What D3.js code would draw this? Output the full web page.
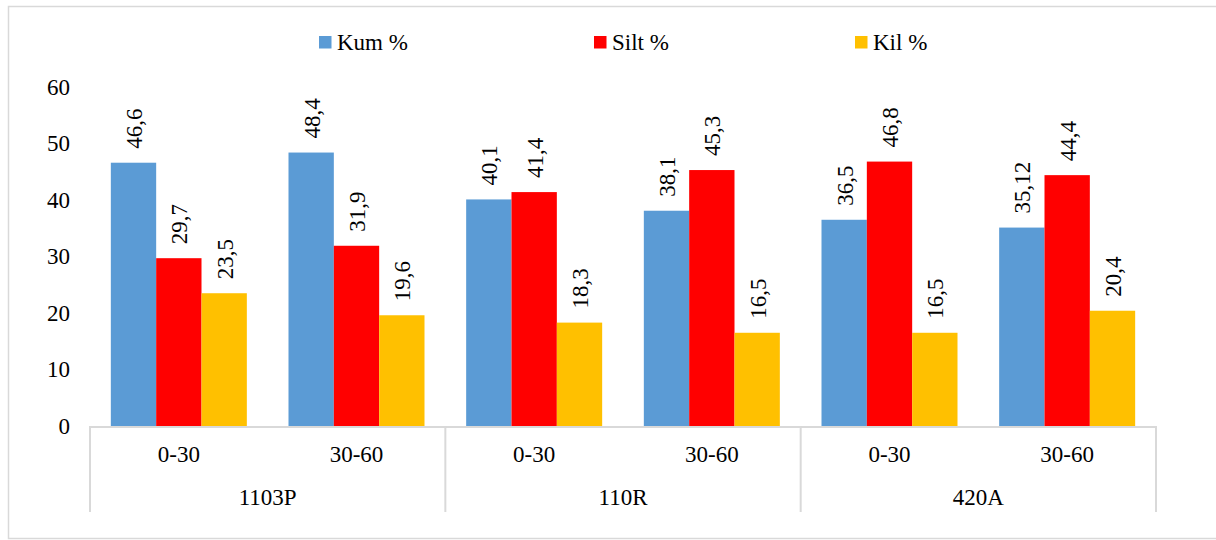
<!DOCTYPE html>
<html><head><meta charset="utf-8">
<script src="https://cdn.jsdelivr.net/npm/d3@7"></script>
<style>body{margin:0;background:#fff}svg{display:block}
svg text{font-family:"Liberation Serif","Tinos","Times New Roman","Times","Nimbus Roman","Nimbus Roman No9 L","FreeSerif","DejaVu Serif","Noto Serif","Noto Serif CJK SC",serif}</style>
</head><body>
<svg id="c" width="1216" height="540"></svg>
<script>
const groups = ["1103P", "110R", "420A"];
const depths = ["0-30", "30-60"];
const seriesNames = ["Kum %", "Silt %", "Kil %"];
const kum = [46.6, 48.4, 40.1, 38.1, 36.5, 35.12];
const silt = [29.7, 31.9, 41.4, 45.3, 46.8, 44.4];
const kil = [23.5, 19.6, 18.3, 16.5, 16.5, 20.4];
const labelsKum = ["46,6", "48,4", "40,1", "38,1", "36,5", "35,12"];
const labelsSilt = ["29,7", "31,9", "41,4", "45,3", "46,8", "44,4"];
const labelsKil = ["23,5", "19,6", "18,3", "16,5", "16,5", "20,4"];
const yTicks = [0, 10, 20, 30, 40, 50, 60];
const colors = ["#5B9BD5", "#FF0000", "#FFC000"];

const svg = d3.select("#c");
const fs = 23;
svg.append("rect").attr("x", 8.5).attr("y", 6.5).attr("width", 1300).attr("height", 532)
  .attr("fill", "none").attr("stroke", "#d9d9d9").attr("stroke-width", 1.5);

const L = 90, R = 1156, T = 87, B = 426;
const cats = [];
groups.forEach(g => depths.forEach(d => cats.push(g + "|" + d)));
const x0 = d3.scaleBand().domain(cats).range([L, R]).paddingInner(0.2345).paddingOuter(0.11725);
const x1 = d3.scaleBand().domain(seriesNames).range([0, x0.bandwidth()]);
const y = d3.scaleLinear().domain([0, 60]).range([B, T]);
const gx = d3.scaleBand().domain(groups).range([L, R]);

const series = [kum, silt, kil];
const labels = [labelsKum, labelsSilt, labelsKil];

svg.append("g").selectAll("text").data(yTicks).join("text")
  .attr("x", 70).attr("y", d => y(d)).attr("text-anchor", "end")
  .attr("dominant-baseline", "central").attr("font-size", fs).text(d => d);

seriesNames.forEach((s, si) => {
  const g = svg.append("g");
  g.selectAll("rect").data(series[si]).join("rect")
    .attr("x", (d, i) => x0(cats[i]) + x1(s))
    .attr("y", d => y(d))
    .attr("width", x1.bandwidth())
    .attr("height", d => B - y(d))
    .attr("fill", colors[si]);
  g.selectAll("text").data(series[si]).join("text")
    .attr("transform", (d, i) => {
      const cx = x0(cats[i]) + x1(s) + x1.bandwidth() / 2 + 1;
      return `translate(${cx},${y(d) - 14}) rotate(-90)`;
    })
    .attr("dominant-baseline", "central")
    .attr("font-size", fs)
    .text((d, i) => labels[si][i]);
});

const ax = svg.append("g").attr("stroke", "#d9d9d9").attr("stroke-width", 2);
ax.append("line").attr("x1", L).attr("x2", R + 1).attr("y1", B + 1).attr("y2", B + 1);
const seps = [L].concat(groups.map(g => gx(g) + gx.bandwidth()));
ax.selectAll("line.sep").data(seps).join("line").attr("class", "sep")
  .attr("x1", d => d).attr("x2", d => d).attr("y1", B).attr("y2", 512);

svg.append("g").selectAll("text").data(cats).join("text")
  .attr("x", d => x0(d) + x0.bandwidth() / 2).attr("y", 462)
  .attr("text-anchor", "middle").attr("font-size", fs).text(d => d.split("|")[1]);
svg.append("g").selectAll("text").data(groups).join("text")
  .attr("x", d => gx(d) + gx.bandwidth() / 2).attr("y", 505)
  .attr("text-anchor", "middle").attr("font-size", fs).text(d => d);

const legX = [319, 594, 855];
const lg = svg.append("g");
seriesNames.forEach((s, i) => {
  lg.append("rect").attr("x", legX[i]).attr("y", 36).attr("width", 12.5).attr("height", 12.5).attr("fill", colors[i]);
  lg.append("text").attr("x", legX[i] + 18).attr("y", 50).attr("font-size", fs).text(s);
});
</script>
</body></html>
